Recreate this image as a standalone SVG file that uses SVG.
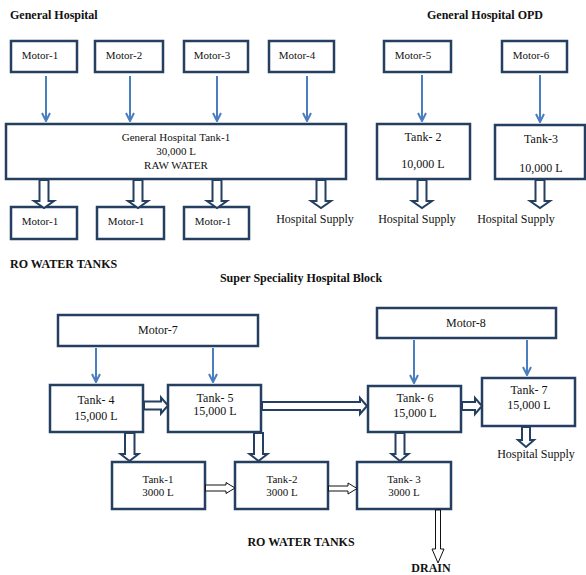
<svg xmlns="http://www.w3.org/2000/svg" width="586" height="575" viewBox="0 0 586 575">
<defs>
<style>
.box{fill:#fff;stroke:#243F60;stroke-width:2.5}
.t{font-family:"Liberation Serif","Times New Roman",serif;font-size:12px;fill:#111;text-anchor:middle}
.s{font-size:11px}
.h{font-family:"Liberation Serif","Times New Roman",serif;font-size:12px;font-weight:bold;fill:#111}
.ln{stroke:#4A7EBF;stroke-width:2;fill:none;marker-end:url(#ah)}
.ba{fill:#fff;stroke:#243F60;stroke-width:2;stroke-linejoin:miter}
.bb{fill:#fff;stroke:#111;stroke-width:1}
</style>
<marker id="ah" viewBox="0 0 10 10" refX="9" refY="5" markerWidth="5" markerHeight="5" orient="auto" markerUnits="strokeWidth">
<polyline points="1,1 9,5 1,9" fill="none" stroke="#4A7EBF" stroke-width="2"/>
</marker>
</defs>

<text class="h" x="10" y="19">General Hospital</text>
<text class="h" x="427" y="19">General Hospital OPD</text>
<text class="h" x="10" y="268">RO WATER TANKS</text>
<text class="h" x="301" y="282" text-anchor="middle">Super Speciality Hospital Block</text>
<text class="h" x="301" y="546" text-anchor="middle">RO WATER TANKS</text>
<text class="h" x="431" y="572" text-anchor="middle">DRAIN</text>

<g id="motor1"><rect class="box" x="11" y="41" width="66" height="31"/><text class="t s" x="40" y="59">Motor-1</text></g>
<g id="motor2"><rect class="box" x="95" y="41" width="68" height="31"/><text class="t s" x="124" y="59">Motor-2</text></g>
<g id="motor3"><rect class="box" x="184" y="41" width="64" height="31"/><text class="t s" x="212" y="59">Motor-3</text></g>
<g id="motor4"><rect class="box" x="269" y="41" width="65" height="31"/><text class="t s" x="297" y="59">Motor-4</text></g>
<g id="motor5"><rect class="box" x="384" y="41" width="67" height="31"/><text class="t s" x="413" y="59">Motor-5</text></g>
<g id="motor6"><rect class="box" x="502" y="41" width="65" height="31"/><text class="t s" x="531" y="59">Motor-6</text></g>

<g id="gh-tank1"><rect class="box" x="6" y="124" width="340" height="55"/>
<text class="t s" x="176" y="141">General Hospital Tank-1</text>
<text class="t s" x="176" y="155">30,000 L</text>
<text class="t s" x="176" y="169">RAW WATER</text></g>
<g id="opd-tank2"><rect class="box" x="377" y="124" width="93" height="55"/>
<text class="t" x="423" y="141">Tank- 2</text><text class="t" x="423" y="168">10,000 L</text></g>
<g id="opd-tank3"><rect class="box" x="495" y="125" width="90" height="54"/>
<text class="t" x="541" y="143">Tank-3</text><text class="t" x="541" y="172">10,000 L</text></g>

<g id="ro-motor1a"><rect class="box" x="11" y="207" width="66" height="32"/><text class="t s" x="40" y="225">Motor-1</text></g>
<g id="ro-motor1b"><rect class="box" x="97" y="207" width="67" height="32"/><text class="t s" x="126" y="225">Motor-1</text></g>
<g id="ro-motor1c"><rect class="box" x="184" y="207" width="65" height="32"/><text class="t s" x="213" y="225">Motor-1</text></g>
<g id="supply1"><text class="t" x="315" y="223">Hospital Supply</text></g>
<g id="supply2"><text class="t" x="417" y="223">Hospital Supply</text></g>
<g id="supply3"><text class="t" x="516" y="223">Hospital Supply</text></g>

<g id="motor7"><rect class="box" x="58" y="315" width="200" height="31"/><text class="t" x="158" y="334">Motor-7</text></g>
<g id="motor8"><rect class="box" x="377" y="308" width="179" height="30"/><text class="t" x="466" y="327">Motor-8</text></g>
<g id="tank4"><rect class="box" x="50" y="385" width="93" height="47"/>
<text class="t" x="96" y="404">Tank- 4</text><text class="t" x="96" y="420">15,000 L</text></g>
<g id="tank5"><rect class="box" x="168" y="385" width="93" height="47"/>
<text class="t" x="215" y="402">Tank- 5</text><text class="t" x="215" y="415">15,000 L</text></g>
<g id="tank6"><rect class="box" x="368" y="386" width="93" height="46"/>
<text class="t" x="415" y="402">Tank- 6</text><text class="t" x="415" y="417">15,000 L</text></g>
<g id="tank7"><rect class="box" x="482" y="378" width="93" height="48"/>
<text class="t" x="529" y="394">Tank- 7</text><text class="t" x="529" y="409">15,000 L</text></g>
<g id="supply4"><text class="t" x="536" y="458">Hospital Supply</text></g>
<g id="tank1"><rect class="box" x="112" y="462" width="93" height="47"/>
<text class="t s" x="158" y="483">Tank-1</text><text class="t s" x="158" y="496">3000 L</text></g>
<g id="tank2"><rect class="box" x="235" y="462" width="93" height="47"/>
<text class="t s" x="282" y="483">Tank-2</text><text class="t s" x="282" y="496">3000 L</text></g>
<g id="tank3"><rect class="box" x="357" y="462" width="94" height="47"/>
<text class="t s" x="404" y="483">Tank- 3</text><text class="t s" x="404" y="496">3000 L</text></g>

<g id="connectors">
<line class="ln" x1="46" y1="76" x2="46" y2="121"/>
<line class="ln" x1="130" y1="76" x2="130" y2="121"/>
<line class="ln" x1="217" y1="76" x2="217" y2="121"/>
<line class="ln" x1="307" y1="76" x2="307" y2="121"/>
<line class="ln" x1="422" y1="75" x2="422" y2="121"/>
<line class="ln" x1="540" y1="75" x2="540" y2="122"/>
<line class="ln" x1="96" y1="348" x2="96" y2="382"/>
<line class="ln" x1="213" y1="348" x2="213" y2="382"/>
<line class="ln" x1="414" y1="340" x2="414" y2="383"/>
<line class="ln" x1="527" y1="340" x2="527" y2="375"/>

<polygon class="ba" points="39.5,180 48.5,180 48.5,201 54,201 44,208 34,201 39.5,201"/>
<polygon class="ba" points="133.5,180 142.5,180 142.5,201 148,201 138,208 128,201 133.5,201"/>
<polygon class="ba" points="212.5,180 221.5,180 221.5,201 227,201 217,208 207,201 212.5,201"/>
<polygon class="ba" points="316.5,180 325.5,180 325.5,201 331,201 321,208 311,201 316.5,201"/>
<polygon class="ba" points="417.5,180 426.5,180 426.5,201 432,201 422,208 412,201 417.5,201"/>
<polygon class="ba" points="535.5,180 544.5,180 544.5,201 550,201 540,208 530,201 535.5,201"/>

<polygon class="ba" points="144,401.5 161,401.5 161,397.5 168,405.5 161,413.5 161,409.5 144,409.5"/>
<polygon class="ba" points="262,402 360,402 360,398 367,406 360,414 360,410 262,410"/>
<polygon class="ba" points="462,402 475,402 475,398 482,406 475,414 475,410 462,410"/>

<polygon class="ba" points="125,433 134.5,433 134.5,454 138.5,454 129.5,461 120.5,454 125,454"/>
<polygon class="ba" points="254,433 263,433 263,454 267.5,454 258.5,461 249.5,454 254,454"/>
<polygon class="ba" points="395.5,433 404.5,433 404.5,454 408.5,454 400,461 391.5,454 395.5,454"/>
<polygon class="ba" points="522,427 530,427 530,440 534,440 526,447 518,440 522,440"/>

<polygon class="bb" points="205.5,485 226,485 226,482.5 235,488 226,493.5 226,491 205.5,491"/>
<polygon class="bb" points="328.5,486 348,486 348,483 357,488.5 348,494 348,491 328.5,491"/>
<polygon class="bb" points="435.5,510 440.5,510 440.5,549 444,549 438,563 432,549 435.5,549"/>
</g>
</svg>
